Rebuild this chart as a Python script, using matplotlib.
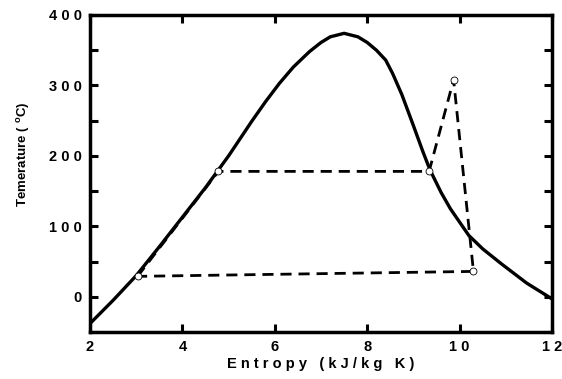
import matplotlib
matplotlib.use("Agg")
import matplotlib.pyplot as plt
import numpy as np

# saturation dome
dome_s = [2.0, 2.5, 3.0, 3.5, 4.0, 4.5, 5.0, 5.5, 5.8, 6.1, 6.4, 6.75, 7.0, 7.2, 7.5,
          7.8, 8.0, 8.2, 8.4, 8.55, 8.75, 9.0, 9.2, 9.36, 9.6, 9.8, 10.2, 10.5, 10.9, 11.45, 12.0]
dome_T = [-38, -5, 30, 71, 113, 155, 200, 249, 277, 303, 326, 348, 361, 369, 374,
          369, 361, 350, 336, 317, 287, 243, 207, 180, 148, 125, 87, 68, 47, 19.5, -3]

# cycle states
cyc_s = [3.03, 4.78, 9.34, 9.87, 10.3, 3.03]
cyc_T = [29, 178, 178, 308, 36, 29]

xticks = [2, 4, 6, 8, 10, 12]
yticks = [0, 100, 200, 300, 400]

plt.rcParams['font.family'] = ['Liberation Sans', 'DejaVu Sans']
plt.rcParams['font.weight'] = 'bold'

fig = plt.figure(figsize=(5.62, 3.79), dpi=100)
ax = fig.add_axes([90 / 562, 1 - 332 / 379, 462 / 562, 317 / 379])

ax.plot(dome_s, dome_T, color='black', lw=2.4, solid_joinstyle='round')
ax.plot(cyc_s, cyc_T, color='black', lw=2.0, ls=(0, (4, 2.5)))
ax.plot(cyc_s[:-1], cyc_T[:-1], ls='none', marker='o', ms=5,
        mfc='white', mec='black', mew=0.6)

ax.set_xlim(2, 12)
ax.set_ylim(-50, 400)
ax.set_xticks(xticks)
ax.set_xticklabels([' '.join(str(v)) for v in xticks])
ax.set_yticks(yticks)
ax.set_yticklabels([' '.join(str(v)) for v in yticks])
ax.set_yticks(np.arange(-50, 401, 50), minor=True)
ax.tick_params(which='both', direction='in', width=2.2, labelsize=10.5,
               top=True, right=True)
ax.tick_params(which='major', length=6, pad=6)
ax.tick_params(which='minor', length=6)
for sp in ax.spines.values():
    sp.set_linewidth(2.5)

ax.set_xlabel('E n t r o p y   ( k J / k g   K )', fontsize=10.5, fontweight='bold', labelpad=2)
ax.set_ylabel(r'Temerature ( $^{\mathregular{o}}$C)', fontsize=9.5, fontweight='bold')
ax.yaxis.set_label_coords(-0.125, 0.56)

fig.savefig('out.png', dpi=100)
